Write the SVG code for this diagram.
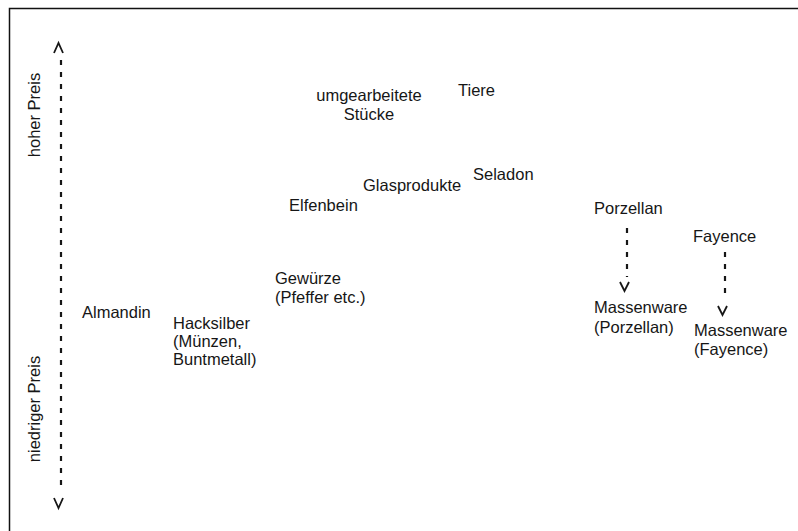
<svg xmlns="http://www.w3.org/2000/svg" width="798" height="531" viewBox="0 0 798 531">
<style>
text{font-family:"Liberation Sans",Arial,sans-serif;font-size:16.5px;fill:#161616}
.dash{stroke:#161616;stroke-width:2.2;stroke-dasharray:5 7;fill:none}
.head{stroke:#161616;stroke-width:1.8;fill:none;stroke-linejoin:miter}
</style>
<rect width="798" height="531" fill="#fff"/>
<path d="M9.5,531 V8.5 H798" fill="none" stroke="#111" stroke-width="1.5"/>
<g id="axis">
<text transform="translate(40,115) rotate(-90)" text-anchor="middle">hoher Preis</text>
<text transform="translate(40,409) rotate(-90)" text-anchor="middle">niedriger Preis</text>
</g>
<g id="connectors">
<line class="dash" x1="61" y1="60" x2="61" y2="492"/>
<polyline class="head" points="54,53 58.5,43 63,53"/>
<polyline class="head" points="54,498 58.5,508 63,498"/>
<line class="dash" x1="627" y1="228" x2="627" y2="277"/>
<polyline class="head" points="620,282 624.5,291 629,282"/>
<line class="dash" x1="725" y1="252" x2="725" y2="299"/>
<polyline class="head" points="718,306 722.5,315 727,306"/>
</g>
<g id="umgearbeitete"><text x="369" y="101" text-anchor="middle">umgearbeitete</text><text x="369" y="120" text-anchor="middle">Stücke</text></g>
<g id="tiere"><text x="458" y="96">Tiere</text></g>
<g id="seladon"><text x="473" y="180">Seladon</text></g>
<g id="glasprodukte"><text x="363" y="191">Glasprodukte</text></g>
<g id="elfenbein"><text x="289" y="211">Elfenbein</text></g>
<g id="gewuerze"><text x="275" y="284">Gewürze</text><text x="275" y="303">(Pfeffer etc.)</text></g>
<g id="almandin"><text x="82" y="318">Almandin</text></g>
<g id="hacksilber"><text x="173" y="329">Hacksilber</text><text x="173" y="347">(Münzen,</text><text x="173" y="365">Buntmetall)</text></g>
<g id="porzellan"><text x="594" y="214">Porzellan</text></g>
<g id="fayence"><text x="693" y="242">Fayence</text></g>
<g id="massenware-porzellan"><text x="594" y="313">Massenware</text><text x="594" y="333">(Porzellan)</text></g>
<g id="massenware-fayence"><text x="694" y="336">Massenware</text><text x="694" y="355">(Fayence)</text></g>
</svg>
